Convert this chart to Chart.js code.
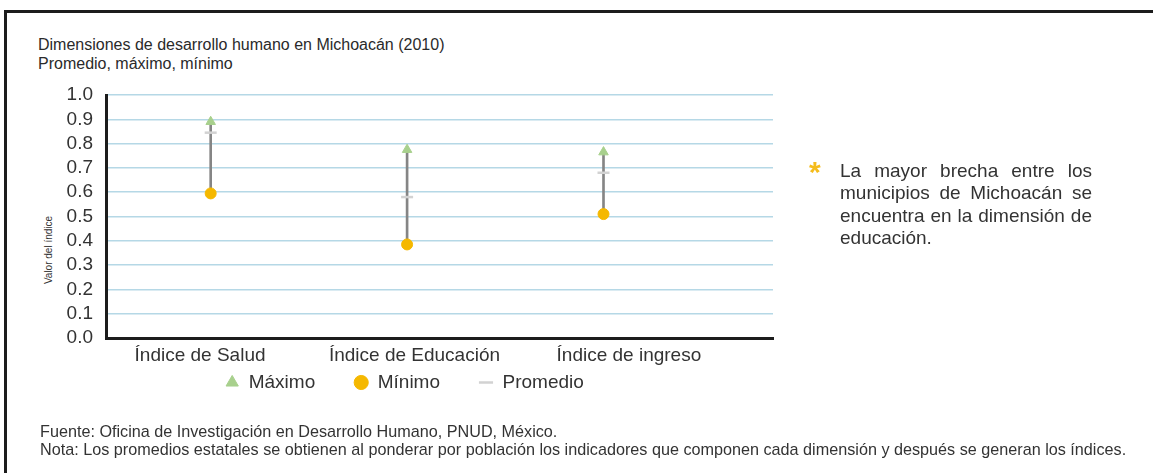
<!DOCTYPE html>
<html>
<head>
<meta charset="utf-8">
<script src="https://cdn.jsdelivr.net/npm/chart.js@4/dist/chart.umd.min.js"></script>
<style>
  html, body { margin: 0; padding: 0; background: #fff; }
  body { width: 1153px; height: 473px; position: relative; overflow: hidden; font-family: "Liberation Sans", Arial, sans-serif; color: #333; }
  #frame { position: absolute; left: 4px; top: 10px; right: -10px; bottom: -10px; border-top: 3px solid #1c1c1c; border-left: 3px solid #1c1c1c; }
  #title { position: absolute; left: 38px; top: 35px; font-size: 16px; line-height: 19px; color: #2a2a2a; }
  #ytitle { position: absolute; left: 48px; top: 250px; font-size: 10px; color: #333; transform: translate(-50%, -50%) rotate(-90deg); white-space: nowrap; }
  #chartbox { position: absolute; left: 0; top: 0; width: 866px; height: 473px; }
  #note { position: absolute; left: 840px; top: 160px; width: 252px; font-size: 19px; line-height: 22.3px; color: #333; }
  #note div { text-align: justify; text-align-last: justify; white-space: nowrap; }
  #note div.last { text-align-last: left; }
  #star { position: absolute; left: 809px; top: 157px; font-size: 30px; line-height: 30px; font-weight: bold; color: #f5bc1c; }
  #foot { position: absolute; left: 40px; top: 423px; font-size: 16.2px; line-height: 17.5px; color: #333; white-space: nowrap; }
</style>
</head>
<body>
<div id="frame"></div>
<div id="title">Dimensiones de desarrollo humano en Michoacán (2010)<br>Promedio, máximo, mínimo</div>
<div id="ytitle">Valor del índice</div>
<div id="chartbox"><canvas id="c" width="866" height="473"></canvas></div>
<div id="star">*</div>
<div id="note">
  <div>La mayor brecha entre los</div>
  <div>municipios de Michoacán se</div>
  <div>encuentra en la dimensión de</div>
  <div class="last">educación.</div>
</div>
<div id="foot">Fuente: Oficina de Investigación en Desarrollo Humano, PNUD, México.<br>Nota: Los promedios estatales se obtienen al ponderar por población los indicadores que componen cada dimensión y después se generan los índices.</div>
<script>
const categories = ['Índice de Salud', 'Índice de Educación', 'Índice de ingreso'];
const maximo   = [0.89, 0.775, 0.765];
const minimo   = [0.595, 0.385, 0.51];
const promedio = [0.845, 0.58, 0.68];
const yTickValues = [0, 0.1, 0.2, 0.3, 0.4, 0.5, 0.6, 0.7, 0.8, 0.9, 1.0];
const seriesNames = ['Máximo', 'Mínimo', 'Promedio'];

const pts = arr => arr.map((v, i) => ({ x: i, y: v }));
const ranges = categories.map((c, i) => ({ x: i, y: [minimo[i], maximo[i]] }));

const FONT = "'Liberation Sans', Arial, sans-serif";

// moves the legend row up next to the category labels
const legendShift = {
  id: 'legendShift',
  afterLayout(chart) {
    const lg = chart.legend;
    if (lg) { lg.top -= 36; lg.bottom -= 36; lg.left += 18; lg.right += 18; }
  }
};

new Chart(document.getElementById('c'), {
  type: 'scatter',
  data: {
    datasets: [
      { type: 'bar', label: 'rango', data: ranges, backgroundColor: '#858585', borderWidth: 0, barThickness: 2, order: 10, xAxisID: 'x', yAxisID: 'y' },
      { label: seriesNames[0], data: pts(maximo), pointStyle: 'triangle', pointRadius: 5.5, backgroundColor: '#a8d08d', borderColor: '#a8d08d', borderWidth: 1, order: 1 },
      { label: seriesNames[1], data: pts(minimo), pointStyle: 'circle', pointRadius: 5.5, backgroundColor: '#f5b800', borderColor: '#f5b800', borderWidth: 1, order: 2 },
      { label: seriesNames[2], data: pts(promedio), pointStyle: 'line', pointRadius: 6, backgroundColor: '#d2d2d2', borderColor: '#d2d2d2', borderWidth: 2.5, order: 3 }
    ]
  },
  plugins: [legendShift],
  options: {
    responsive: false,
    animation: false,
    layout: { padding: { top: 95, right: 93, bottom: 35, left: 0 } },
    plugins: {
      tooltip: { enabled: false },
      legend: {
        position: 'bottom',
        labels: {
          usePointStyle: true,
          boxWidth: 14,
          boxHeight: 10,
          padding: 39,
          color: '#333',
          font: { family: FONT, size: 19 },
          filter: item => item.datasetIndex !== 0
        }
      }
    },
    scales: {
      x: {
        type: 'linear',
        position: 'bottom',
        offset: false,
        min: -0.533, max: 2.863,
        ticks: { display: false },
        grid: { display: false, drawTicks: false, offset: false },
        border: { display: true, color: '#1c1c1c', width: 3 },
        afterFit: s => { s.height = 0; }
      },
      x2: {
        type: 'linear',
        position: 'bottom',
        offset: false,
        min: -0.4386, max: 2.672,
        afterBuildTicks: s => { s.ticks = categories.map((c, i) => ({ value: i })); },
        ticks: { callback: v => categories[v], color: '#333', font: { family: FONT, size: 19 }, padding: 6, maxRotation: 0, autoSkip: false },
        grid: { display: false, drawTicks: false },
        border: { display: false },
        afterFit: s => { s.height = 32; }
      },
      y: {
        min: 0, max: 1,
        afterBuildTicks: s => { s.ticks = yTickValues.map(v => ({ value: v })); },
        ticks: { callback: v => Number(v).toFixed(1), color: '#333', font: { family: FONT, size: 19 }, padding: 13, autoSkip: false },
        grid: { color: '#b5d8e6', lineWidth: 1.5, drawTicks: false },
        border: { display: true, color: '#1c1c1c', width: 3 },
        afterFit: s => { s.width = 106; }
      }
    }
  }
});
</script>
</body>
</html>
